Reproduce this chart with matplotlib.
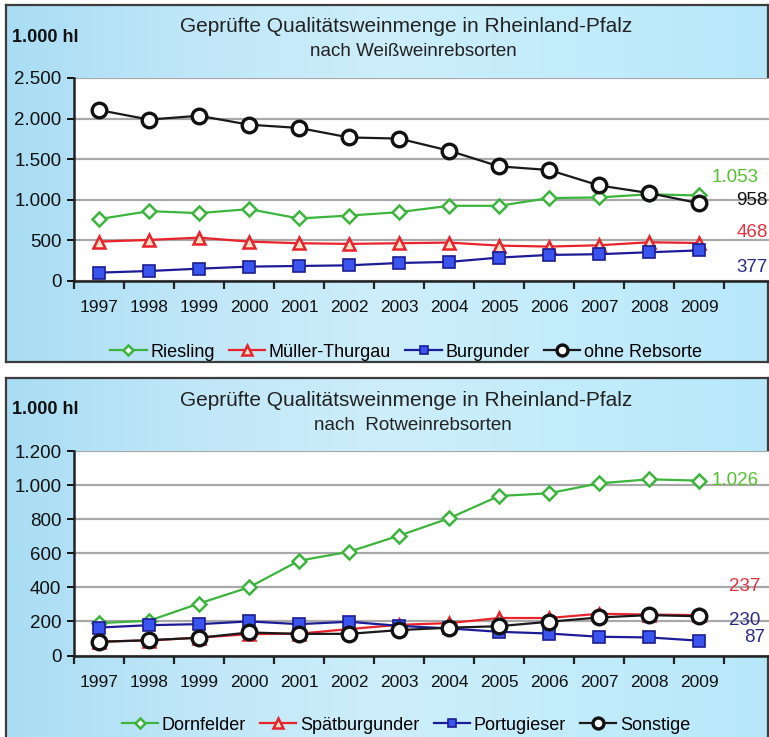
import numpy as np
import matplotlib
matplotlib.use("Agg")
import matplotlib.pyplot as plt
from matplotlib.colors import LinearSegmentedColormap

plt.rcParams['font.family'] = ['Liberation Sans', 'DejaVu Sans']

years = [str(y) for y in range(1997, 2010)]

# white wine varieties (1.000 hl)
riesling = [762, 860, 836, 885, 770, 806, 848, 926, 926, 1021, 1029, 1068, 1053]
mueller = [485, 506, 534, 485, 465, 457, 465, 473, 436, 424, 440, 477, 468]
burgunder = [103, 123, 152, 177, 185, 193, 222, 235, 288, 321, 330, 354, 377]
ohne = [2105, 1988, 2035, 1925, 1885, 1768, 1754, 1605, 1412, 1367, 1177, 1083, 958]

# red wine varieties (1.000 hl)
dornfelder = [190, 204, 305, 400, 556, 609, 703, 805, 936, 952, 1010, 1034, 1026]
spaet = [82, 88, 105, 125, 128, 155, 180, 190, 220, 220, 245, 240, 237]
portug = [164, 178, 184, 200, 184, 198, 174, 159, 139, 129, 110, 106, 87]
sonstige = [80, 90, 104, 135, 127, 127, 149, 163, 172, 198, 223, 237, 230]

W, H = 769, 737
fig = plt.figure(figsize=(W / 100, H / 100), dpi=100)

bg_cmap = LinearSegmentedColormap.from_list(
    'bg', ['#a9ddf4', '#c0e7f8', '#cdeefa', '#c2ecfb', '#b6e8fa'])


def px(x0, y0, x1, y1):
    # pixel box (top-left origin) -> figure fraction rect
    return [x0 / W, 1 - y1 / H, (x1 - x0) / W, (y1 - y0) / H]


def panel_bg(rect):
    b = fig.add_axes(rect)
    img = np.linspace(0, 1, 256)[None, :]
    b.imshow(img, cmap=bg_cmap, aspect='auto', extent=[0, 1, 0, 1])
    b.set_xticks([])
    b.set_yticks([])
    for s in b.spines.values():
        s.set_color('#3c3c3c')
        s.set_linewidth(1.6)
    return b


panel_bg(px(6, 5, 768, 362))
panel_bg(px(6, 378, 768, 745))

green = '#3bb53b'
red = '#e8232b'
navy = '#1c1c96'


def fmt(v):
    return f"{v:,.0f}".replace(',', '.')


def draw(ax, series, labels, ymax, ystep):
    x = np.arange(len(years))
    styles = [
        dict(color=green, marker='D', markersize=7, mfc='white', mec=green, mew=1.8),
        dict(color=red, marker='^', markersize=9, mfc='#ffe2c8', mec=red, mew=1.8),
        dict(color=navy, marker='s', markersize=8, mfc='#3a55ee', mec=navy, mew=1.2),
        dict(color='#1a1a1a', marker='o', markersize=10.5, mfc='white', mec='#111111', mew=2.4),
    ]
    for s, st, lab in zip(series, styles, labels):
        ax.plot(x, s, lw=1.6, label=lab, **st)
    ax.set_xlim(-0.5, 13.4)
    ax.set_ylim(0, ymax)
    yt = np.arange(0, ymax + 1, ystep)
    ax.set_yticks(yt)
    ax.set_yticklabels([fmt(v) for v in yt])
    ax.set_xticks(x)
    ax.set_xticklabels(years)
    ax.set_xticks(np.arange(-0.5, 13.0, 1.0), minor=True)
    ax.tick_params(axis='x', which='major', length=0, pad=14, labelsize=12.5, colors='#111111')
    ax.tick_params(axis='x', which='minor', length=6, width=1.6, direction='out', color='#222222')
    ax.tick_params(axis='y', length=5, width=1.4, pad=4, labelsize=13.5, colors='#111111')
    ax.grid(axis='y', color='#a8a8a8', lw=1.6)
    ax.set_axisbelow(True)
    for k in ('top', 'right'):
        ax.spines[k].set_visible(False)
    for k in ('left', 'bottom'):
        ax.spines[k].set_color('#222222')
        ax.spines[k].set_linewidth(1.8)
    ax.set_facecolor('white')


ax1 = fig.add_axes(px(74, 78, 769, 281))
draw(ax1, [riesling, mueller, burgunder, ohne],
     ['Riesling', 'Müller-Thurgau', 'Burgunder', 'ohne Rebsorte'], 2500, 500)
ax2 = fig.add_axes(px(74, 451, 769, 655.5))
draw(ax2, [dornfelder, spaet, portug, sonstige],
     ['Dornfelder', 'Spätburgunder', 'Portugieser', 'Sonstige'], 1200, 200)

# end-of-line value labels
ax1.text(12.72, riesling[-1] + 220, fmt(riesling[-1]), color='#55c030', fontsize=13.5, ha='center', va='center')
ax1.text(13.06, ohne[-1] + 30, fmt(ohne[-1]), color='#111111', fontsize=13.5, ha='center', va='center')
ax1.text(13.06, mueller[-1] + 125, fmt(mueller[-1]), color='#e8303a', fontsize=13.5, ha='center', va='center')
ax1.text(13.06, burgunder[-1] - 205, fmt(burgunder[-1]), color='#2a2a8a', fontsize=13.5, ha='center', va='center')

ax2.text(12.25, dornfelder[-1], fmt(dornfelder[-1]), color='#55c030', fontsize=13.5, ha='left', va='center')
ax2.text(12.92, spaet[-1] + 170, fmt(spaet[-1]), color='#e8303a', fontsize=13.5, ha='center', va='center')
ax2.text(12.92, sonstige[-1] - 23, fmt(sonstige[-1]), color='#2a2a8a', fontsize=13.5, ha='center', va='center')
ax2.text(13.12, portug[-1] + 20, fmt(portug[-1]), color='#2a2a8a', fontsize=13.5, ha='center', va='center')

# titles
for ytop, sub in ((27, 'nach Weißweinrebsorten'), (400, 'nach  Rotweinrebsorten')):
    fig.text(406 / W, 1 - ytop / H, 'Geprüfte Qualitätsweinmenge in Rheinland-Pfalz',
             ha='center', va='center', fontsize=15, color='#222222')
    fig.text(413 / W, 1 - (ytop + 25) / H, sub, ha='center', va='center', fontsize=13.5, color='#222222')
    fig.text(12 / W, 1 - (ytop + 10) / H, '1.000 hl', ha='left', va='center', fontsize=13,
             fontweight='bold', color='#111111')

for ax, yleg in ((ax1, 352), (ax2, 725)):
    ax.legend(loc='center', bbox_to_anchor=(406 / W, 1 - yleg / H), bbox_transform=fig.transFigure,
              ncol=4, frameon=False, fontsize=13, handlelength=2.0, handletextpad=0.2,
              columnspacing=0.8, markerscale=0.75)

fig.savefig('out.png', dpi=100)
